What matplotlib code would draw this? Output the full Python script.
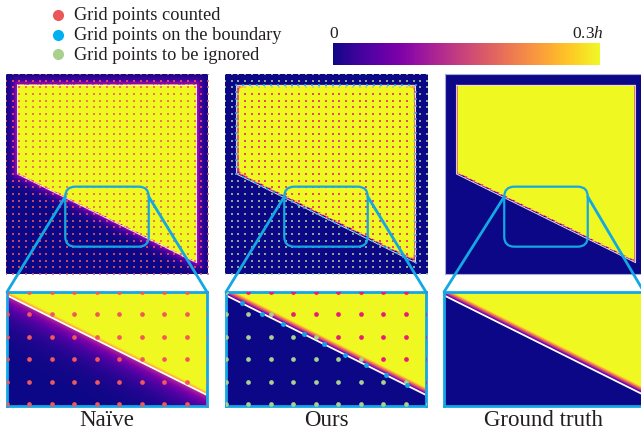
import numpy as np
import matplotlib
matplotlib.use("Agg")  # headless
import matplotlib.pyplot as plt
from matplotlib.patches import FancyBboxPatch, ConnectionPatch

plt.rcParams["font.family"] = ["Liberation Serif", "DejaVu Serif"]
plt.rcParams["mathtext.fontset"] = "custom"
plt.rcParams["mathtext.rm"] = "Liberation Serif"
plt.rcParams["mathtext.it"] = "Liberation Serif:italic"

FIG_W, FIG_H = 641, 432

# domain in grid units (spacing h = 1), grid points at 0..30 on both axes
grid_ticks = np.arange(0, 31)
poly_x = np.array([1.7, 28.3, 28.3, 1.7])
poly_y = np.array([28.3, 28.3, 1.7, 15.0])
edge_samples = [26, 26, 29, 13]   # boundary points per edge: top, right, slanted, left
band = 0.3                        # colour scale saturates at 0.3h
ignore_band = 0.4                 # interior points closer than this are ignored

# highlighted box on the overviews and the magnified window below
zoom_box = (8.8, 4.1, 12.4, 9.0)  # x, y, w, h
box_round = 1.5
inset_xlim = (12.0, 20.9)
inset_ylim = (4.93, 10.0)

titles = ["Naïve", "Ours", "Ground truth"]
legend_labels = ["Grid points counted", "Grid points on the boundary",
                 "Grid points to be ignored"]
legend_colors = ["#eb5757", "#00b0f0", "#a9d18e"]
cbar_labels = ["0", "0.3$h$"]

naive_dot = "#f0585a"
counted_dot = "#ea1a78"
boundary_dot = "#14a5e6"
ignored_dot = "#a9d18e"
frame_blue = "#13a8e3"
text_col = "#231f20"

# layout in pixels: left, top, width, height
top_boxes = [(6, 74, 202, 200), (225, 74, 202, 200), (445, 74, 202, 200)]
inset_boxes = [(7, 292, 200, 113.5), (226, 292, 200, 113.5), (444, 292, 200, 113.5)]
title_x = [107, 326, 544]


def px_axes(fig, box):
    x, y, w, h = box
    return fig.add_axes([x / FIG_W, 1 - (y + h) / FIG_H, w / FIG_W, h / FIG_H])


def distances(px, py):
    """Signed distance to the polygon (positive inside): hard and soft-cornered."""
    ax_, ay_ = poly_x, poly_y
    bx, by = np.roll(poly_x, -1), np.roll(poly_y, -1)
    lines, segs = [], []
    for i in range(len(ax_)):
        dx, dy = bx[i] - ax_[i], by[i] - ay_[i]
        L = np.hypot(dx, dy)
        # clockwise outline -> inner side is on the right
        lines.append(((px - ax_[i]) * dy - (py - ay_[i]) * dx) / L)
        t = np.clip(((px - ax_[i]) * dx + (py - ay_[i]) * dy) / (L * L), 0, 1)
        segs.append(np.hypot(px - ax_[i] - t * dx, py - ay_[i] - t * dy))
    lines, segs = np.array(lines), np.array(segs)
    inside = np.all(lines > 0, axis=0)
    outside = -segs.min(axis=0)
    d_hard = np.where(inside, lines.min(axis=0), outside)
    soft = 1.0 / np.sum(1.0 / np.clip(lines, 1e-9, None), axis=0)
    d_soft = np.where(inside, soft, outside)
    return d_hard, d_soft


def fields(px, py):
    d_hard, d_soft = distances(px, py)
    naive = np.where(d_hard >= 0,
                     np.clip(0.68 + 0.32 * d_hard / 0.18, 0, 1),
                     0.42 * np.exp(d_hard / 0.5))
    ours = np.clip(d_soft / band, 0, 1)
    truth = np.clip(d_hard / band, 0, 1)
    return [naive, ours, truth]


# grid points and boundary samples
gx, gy = np.meshgrid(grid_ticks, grid_ticks)
gx, gy = gx.ravel().astype(float), gy.ravel().astype(float)
gd, _ = distances(gx, gy)
counted = gd > ignore_band

bpx, bpy = [], []
for i, n in enumerate(edge_samples):
    j = (i + 1) % len(poly_x)
    t = np.arange(n) / n
    bpx.append(poly_x[i] + t * (poly_x[j] - poly_x[i]))
    bpy.append(poly_y[i] + t * (poly_y[j] - poly_y[i]))
bpx, bpy = np.concatenate(bpx), np.concatenate(bpy)

outline_x = np.append(poly_x, poly_x[0])
outline_y = np.append(poly_y, poly_y[0])

# rasters
res = 150
c = (np.arange(res) + 0.5) * 30 / res
TX, TY = np.meshgrid(c, c)
top_fields = fields(TX, TY)

ix = np.linspace(*inset_xlim, 500)
iy = np.linspace(*inset_ylim, 285)
IX, IY = np.meshgrid(ix, iy)
inset_fields = fields(IX, IY)

fig = plt.figure(figsize=(FIG_W / 100, FIG_H / 100), dpi=100)

ov = fig.add_axes([0, 0, 1, 1])
ov.set_xlim(0, FIG_W)
ov.set_ylim(FIG_H, 0)
ov.axis("off")


def draw_dots(ax, k, size, marker, alpha=1.0):
    kw = dict(s=size, marker=marker, lw=0, alpha=alpha, zorder=3)
    if k == 0:
        ax.scatter(gx, gy, c=naive_dot, **kw)
    elif k == 1:
        ax.scatter(gx[~counted], gy[~counted], c=ignored_dot, **kw)
        ax.scatter(gx[counted], gy[counted], c=counted_dot, **kw)
        kw["s"] = size * 1.1
        kw["zorder"] = 4
        ax.scatter(bpx, bpy, c=boundary_dot, **kw)


for k in range(3):
    # overview
    ax = px_axes(fig, top_boxes[k])
    ax.imshow(top_fields[k], cmap="plasma", vmin=0, vmax=1, origin="lower",
              extent=[0, 30, 0, 30], interpolation="nearest", aspect="auto")
    ax.plot(outline_x, outline_y, color="white", lw=0.7, alpha=0.85, zorder=2)
    draw_dots(ax, k, 1.3, "s", alpha=0.8)
    ax.set_xlim(0, 30)
    ax.set_ylim(0, 30)
    ax.set_xticks([])
    ax.set_yticks([])
    for sp in ax.spines.values():
        if k == 2:
            sp.set_color("#aaaad8")
            sp.set_linewidth(0.8)
        else:
            sp.set_visible(False)
    bx0, by0, bw, bh = zoom_box
    ax.add_patch(FancyBboxPatch((bx0, by0), bw, bh,
                                boxstyle=f"round,pad=0,rounding_size={box_round}",
                                fc="none", ec=frame_blue, lw=1.6, zorder=5))

    # magnified window
    axi = px_axes(fig, inset_boxes[k])
    axi.imshow(inset_fields[k], cmap="plasma", vmin=0, vmax=1, origin="lower",
               extent=[*inset_xlim, *inset_ylim], interpolation="bilinear", aspect="auto")
    axi.plot(outline_x, outline_y, color="white", lw=1.3, zorder=2)
    draw_dots(axi, k, 11.5, "o")
    axi.set_xlim(*inset_xlim)
    axi.set_ylim(*inset_ylim)
    axi.set_xticks([])
    axi.set_yticks([])
    for sp in axi.spines.values():
        sp.set_color(frame_blue)
        sp.set_linewidth(2.0)

    # leader lines from the box to the window corners
    for xa, xb in [(bx0, 0), (bx0 + bw, 1)]:
        con = ConnectionPatch(xyA=(xa, by0 + bh - box_round), coordsA="data", axesA=ax,
                              xyB=(xb, 1), coordsB="axes fraction", axesB=axi,
                              color=frame_blue, lw=2.0)
        fig.add_artist(con)

    ov.text(title_x[k], 425.5, titles[k], ha="center", va="baseline",
            fontsize=16.5, color=text_col)

# legend
for i, (lab, col) in enumerate(zip(legend_labels, legend_colors)):
    yc = 15 + 19.7 * i
    ov.plot(58, yc, "o", ms=8, color=col, mec="none")
    ov.text(74, yc + 5.5, lab, fontsize=13.2, va="baseline", color=text_col)

# colour bar
cax = px_axes(fig, (333, 42.7, 267, 22.3))
cax.imshow(np.linspace(0, 1, 256)[None, :], cmap="plasma", aspect="auto")
cax.axis("off")
ov.text(333.5, 38.5, cbar_labels[0], ha="center", va="baseline", fontsize=12.5, color=text_col)
ov.text(604, 38.5, cbar_labels[1], ha="right", va="baseline", fontsize=12.5, color=text_col)

fig.savefig("out.png", dpi=100)
